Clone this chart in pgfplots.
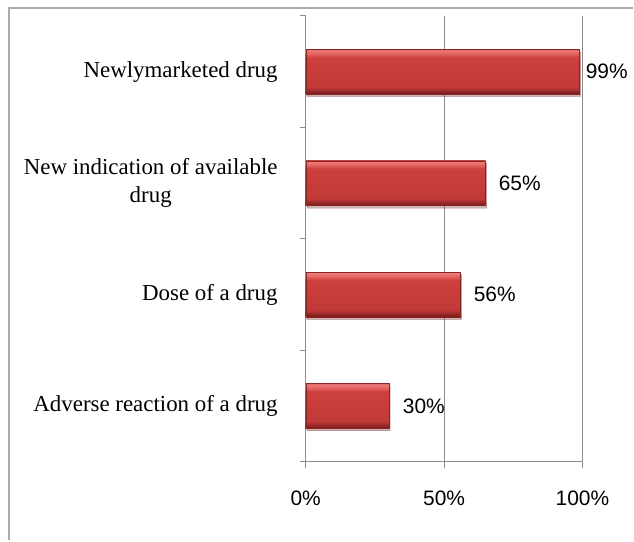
\documentclass[border=0pt]{standalone}
\usepackage{pgfplots}
\pgfplotsset{compat=1.18}
\usepackage{fontspec}
\setmainfont{Liberation Serif}
\newfontfamily\sansf{Liberation Sans}
\usetikzlibrary{shadows}

\definecolor{gridgray}{RGB}{140,140,140}
\definecolor{framegray}{RGB}{170,170,170}
\definecolor{barborder}{RGB}{140,36,36}

% glossy bevelled red used for the bars (25bp..75bp spans one bar)
\pgfdeclareverticalshading{redbar}{100bp}{%
  color(0bp)=(rgb,255:red,115;green,28;blue,28);
  color(25bp)=(rgb,255:red,115;green,28;blue,28);
  color(29bp)=(rgb,255:red,160;green,44;blue,44);
  color(33bp)=(rgb,255:red,192;green,58;blue,56);
  color(66bp)=(rgb,255:red,204;green,64;blue,62);
  color(70bp)=(rgb,255:red,226;green,98;blue,96);
  color(74bp)=(rgb,255:red,236;green,124;blue,122);
  color(75bp)=(rgb,255:red,215;green,95;blue,95);
  color(100bp)=(rgb,255:red,215;green,95;blue,95)}

\pgfplotsset{
  drugbar/.style={
    xbar, bar width=0.4, bar shift=0pt,
    draw=barborder, line width=0.4bp,
    shading=redbar,
    drop shadow={shadow xshift=1bp, shadow yshift=-2.5bp, opacity=0.22, fill=black!60},
    point meta=x,
    nodes near coords={\pgfmathprintnumber[assume math mode=true]{\pgfplotspointmeta}\%},
    nodes near coords align={anchor=west},
    every node near coord/.append style={font=\sansf\fontsize{21}{24}\selectfont,
      inner sep=0pt, xshift=#1, text=black},
  },
}

\begin{document}
\begin{tikzpicture}
  % page extent and chart frame
  \path (0bp,0bp) rectangle (634bp,-541bp);
  \draw[framegray, line width=1.2bp] (9bp,-541bp) -- (9bp,-8bp) -- (634bp,-8bp);

  \begin{axis}[
    at={(306bp,-462bp)}, anchor=south west,
    scale only axis,
    width=277bp, height=446bp,
    xmin=0, xmax=100,
    ymin=-0.5, ymax=3.5,
    axis x line*=bottom,
    axis y line*=left,
    axis line style={gridgray, line width=1bp},
    xtick={0,50,100},
    xticklabels={0\%,50\%,100\%},
    ytick={0,1,2,3},
    yticklabels={Adverse reaction of a drug,Dose of a drug,New indication of available\\drug,Newlymarketed drug},
    minor ytick={-0.5,0.5,1.5,2.5,3.5},
    tick align=outside,
    major tick length=6bp,
    minor tick length=6bp,
    xtick style={gridgray, line width=1bp},
    ytick style={draw=none},
    minor y tick style={draw=gridgray, line width=1bp},
    xmajorgrids,
    major grid style={gridgray, line width=1bp},
    xticklabel style={font=\sansf\fontsize{21}{24}\selectfont, inner sep=0pt, yshift=-23bp},
    yticklabel style={font=\fontsize{23}{28}\selectfont, align=center, inner sep=0pt, xshift=-22bp},
    clip=false,
  ]
    % one plot per bar so that each bar gets its own bevel shading
    \addplot[drugbar=6bp]  coordinates {(99,3)};
    \addplot[drugbar=13bp] coordinates {(65,2)};
    \addplot[drugbar=13bp] coordinates {(56,1)};
    \addplot[drugbar=14bp] coordinates {(30,0)};
  \end{axis}
\end{tikzpicture}
\end{document}
